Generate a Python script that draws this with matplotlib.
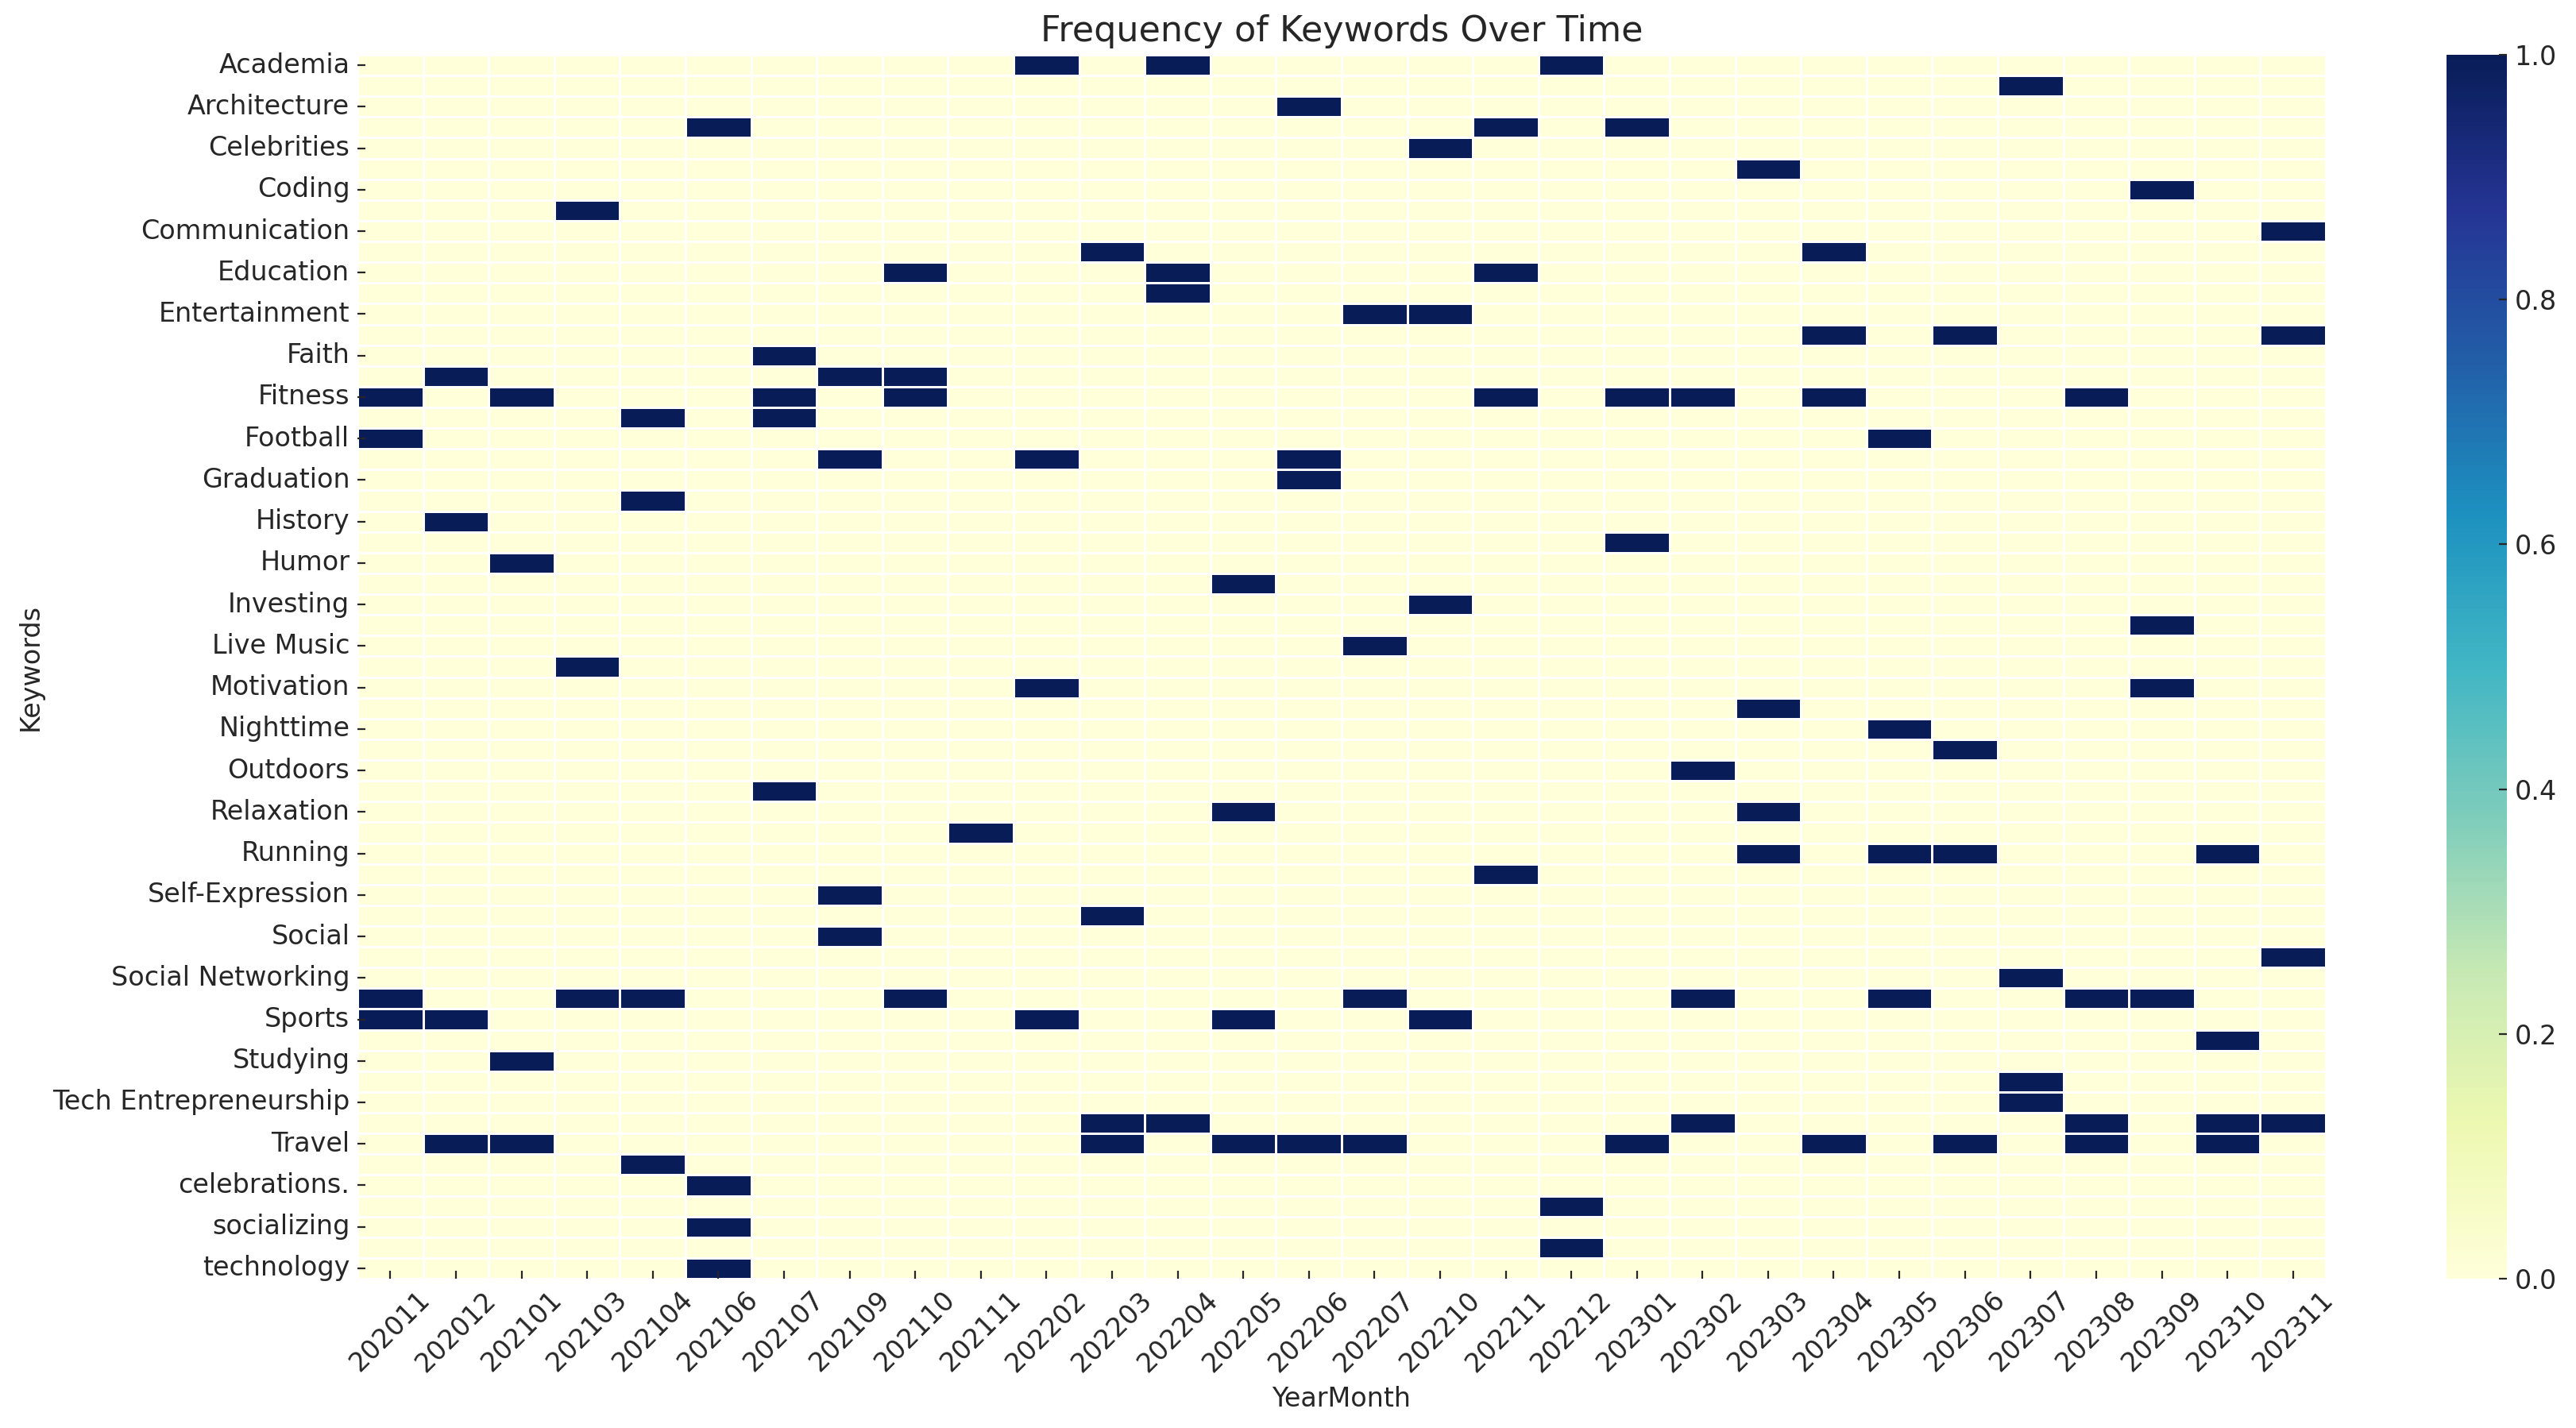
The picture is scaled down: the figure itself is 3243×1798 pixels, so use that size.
import numpy as np
import pandas as pd
import seaborn as sns
import matplotlib.pyplot as plt

months = ['202011', '202012', '202101', '202103', '202104', '202106', '202107', '202109', '202110', '202111',
          '202202', '202203', '202204', '202205', '202206', '202207', '202210', '202211', '202212', '202301',
          '202302', '202303', '202304', '202305', '202306', '202307', '202308', '202309', '202310', '202311']

# only every second keyword is readable on the chart, the others stay blank
keywords = ['Academia', '', 'Architecture', '', 'Celebrities', '', 'Coding', '', 'Communication', '',
            'Education', '', 'Entertainment', '', 'Faith', '', 'Fitness', '', 'Football', '',
            'Graduation', '', 'History', '', 'Humor', '', 'Investing', '', 'Live Music', '',
            'Motivation', '', 'Nighttime', '', 'Outdoors', '', 'Relaxation', '', 'Running', '',
            'Self-Expression', '', 'Social', '', 'Social Networking', '', 'Sports', '', 'Studying', '',
            'Tech Entrepreneurship', '', 'Travel', '', 'celebrations.', '', 'socializing', '', 'technology']

# month positions with a value of 1, one list per keyword row
hits = [[10, 12, 18], [25], [14], [5, 17, 19], [16], [21], [27], [3], [29], [11, 22],
        [8, 12, 17], [12], [15, 16], [22, 24, 29], [6], [1, 7, 8],
        [0, 2, 6, 8, 17, 19, 20, 22, 26], [4, 6], [0, 23], [7, 10, 14],
        [14], [4], [1], [19], [2], [13], [16], [27], [15], [3],
        [10, 27], [21], [23], [24], [20], [6], [13, 21], [9], [21, 23, 24, 28], [17],
        [7], [11], [7], [29], [25], [0, 3, 4, 8, 15, 20, 23, 26, 27], [0, 1, 10, 13, 16], [28], [2], [25],
        [25], [11, 12, 20, 26, 28, 29], [1, 2, 11, 13, 14, 15, 19, 22, 24, 26, 28], [4], [5], [18], [5], [18], [5]]

freq = np.zeros((len(keywords), len(months)))
for i, cols in enumerate(hits):
    freq[i, cols] = 1
df = pd.DataFrame(freq, index=keywords, columns=months)

W, H = 3243, 1798
text_col = '#262626'
plt.rcParams['text.color'] = text_col
plt.rcParams['axes.labelcolor'] = text_col
plt.rcParams['xtick.labelcolor'] = text_col
plt.rcParams['ytick.labelcolor'] = text_col

fig = plt.figure(figsize=(W / 200, H / 200), dpi=200)
ax = fig.add_axes([450 / W, 1 - 1610 / H, (2928 - 450) / W, (1610 - 69) / H])
cax = fig.add_axes([3080 / W, 1 - 1610 / H, (3156 - 3080) / W, (1610 - 69) / H])

sns.heatmap(df, cmap='YlGnBu', linewidths=1, linecolor='white', ax=ax, cbar_ax=cax,
            xticklabels=True, yticklabels=2, vmin=0, vmax=1)

ax.set_title('Frequency of Keywords Over Time', fontsize=16, color=text_col, pad=6)
ax.set_xlabel('YearMonth', fontsize=12)
ax.set_ylabel('Keywords', fontsize=12)
ax.tick_params(axis='both', direction='in', length=3.5, width=0.8, color=text_col, labelsize=12)
plt.setp(ax.get_xticklabels(), rotation=45, ha='center')
plt.setp(ax.get_yticklabels(), rotation=0)

cax.tick_params(direction='in', length=3.5, width=0.8, color=text_col, labelsize=12)
cax.set_yticks([0, 0.2, 0.4, 0.6, 0.8, 1.0])

fig.savefig('out.png', dpi=200)
